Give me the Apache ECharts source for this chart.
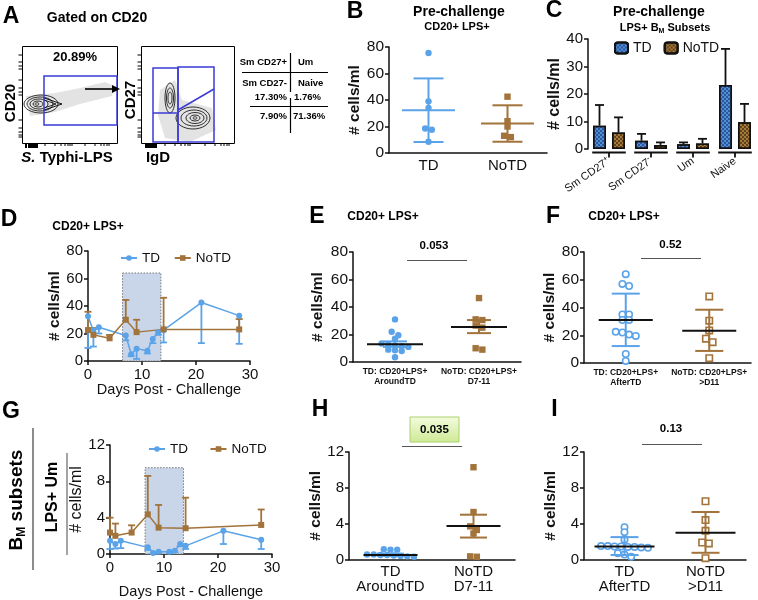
<!DOCTYPE html>
<html><head><meta charset="utf-8">
<script src="https://cdn.jsdelivr.net/npm/echarts@6/dist/echarts.min.js"></script>
<style>html,body{margin:0;padding:0;background:#fff}#c{width:758px;height:600px}</style>
</head><body><div id="c"></div>
<script>
// ---------------- data ----------------
const bCats = ['TD', 'NoTD'];
const bTD = [75.5, 39, 34, 18.5, 17.5, 8.5];
const bNoTD = [42.5, 24, 20, 13, 12];
const bMean = [32.3, 22.3], bLow = [8.3, 8.5], bHigh = [56.3, 36];

const cCats = ['Sm CD27+', 'Sm CD27-', 'Um', 'Naive'];
const cTD = [8.5, 3.0, 1.7, 23.3], cTDerr = [16, 5.5, 2.4, 36.4];
const cNoTD = [6.0, 1.5, 2.0, 9.7], cNoTDerr = [11.5, 2.4, 3.7, 16.4];

const tdDays = [0, 1, 2, 7, 8, 9, 11, 12, 13, 14, 21, 28];
const notdDays = [0, 1, 4, 7, 9, 14, 28];
const dTD = [32.5, 22, 24.5, 18.5, 5, 9, 7.5, 16, 21, 22.5, 42.5, 33];
const dTDlow = [9.5, 10.5, 20, 15, 3.5, 1.5, 5.5, 13, 19, 13.5, 13, 12.5];
const dNoTD = [22.5, 19, 16.5, 30, 21, 23, 23];
const dNoTDhigh = [35.8, 24, 19, 44.4, 30, 46, 30.5];
const dShade = [6.4, 13.5, 64];

const gTD = [1.45, 1.1, 1.45, 0.73, 0.1, 0.25, 0.25, 0.36, 1.1, 0.9, 2.55, 1.56];
const gTDlow = [0.55, 0.6, 0.65, 0.45, 0.05, 0.1, 0.1, 0.2, 0.85, 0.55, 1.1, 0.55];
const gNoTD = [2.36, 2.0, 2.36, 4.36, 2.9, 2.84, 3.2];
const gNoTDhigh = [4.0, 3.35, 3.16, 8.6, 5.4, 6.2, 4.9];
const gShade = [6.5, 13.6, 9.5];

const eCats = ['TD: CD20+LPS+\nAroundTD', 'NoTD: CD20+LPS+\nD7-11'];
const eTD = [31, 22, 19.5, 17, 13.5, 13, 12, 11, 9, 8.5, 8, 3.5, 11.5];
const eNoTD = [46.5, 31, 30.5, 26.5, 25, 10, 9];
const eMean = [13, 25.5], eLow = [11, 21], eHigh = [15, 30.5];

const fCats = ['TD: CD20+LPS+\nAfterTD', 'NoTD: CD20+LPS+\n>D11'];
const fTD = [64, 57, 55.5, 35, 35, 31, 31, 22.5, 22, 20.5, 19.5, 6.5, 1.5];
const fNoTD = [48, 30.5, 23.5, 17.5, 15, 3.5];
const fMean = [31, 23.3], fLow = [12.2, 8.7], fHigh = [50, 38.4];

const hCats = ['TD\nAroundTD', 'NoTD\nD7-11'];
const hTD = [1.1, 1.1, 1.15, 0.55, 0.5, 0.4, 0.3, 0.35, 0.45, 0.5, 0.55];
const hNoTD = [10.3, 5.3, 3.7, 3.3, 2.9, 0.3, 0.35];
const hMean = [0.5, 3.75], hLow = [0.4, 2.45], hHigh = [0.65, 5.0];

const iCats = ['TD\nAfterTD', 'NoTD\n>D11'];
const iTD = [3.6, 3.05, 2.2, 1.5, 1.45, 1.4, 1.4, 1.35, 1.3, 1.45, 1.5, 0.7, 0.3, 0.55];
const iNoTD = [6.5, 4.4, 3.2, 1.9, 1.8, 0.15];
const iMean = [1.45, 3.0], iLow = [0.5, 0.75], iHigh = [2.5, 5.3];

const pE = '0.053', pF = '0.52', pH = '0.035', pI = '0.13';

// ---------------- styles ----------------
const BLUE = '#5ba3e8', BROWN = '#a2733a', INK = '#111';
const FONT = 'Liberation Sans';

// row-based beeswarm: points within binH px vertically share a row, spread symmetrically
function swarm(pts, d, binH) {
  const order = pts.map((p, i) => i).sort((a, b) => pts[a][1] - pts[b][1]);
  const out = new Array(pts.length);
  let k = 0;
  while (k < order.length) {
    const y0 = pts[order[k]][1];
    const grp = [];
    while (k < order.length && pts[order[k]][1] - y0 <= binH) { grp.push(order[k]); k++; }
    grp.forEach((idx, j) => {
      out[idx] = [pts[idx][0] + (j - (grp.length - 1) / 2) * d, pts[idx][1]];
    });
  }
  return out;
}

function dots(g, cat, vals, color, shape, filled) {
  return {
    type: 'custom', xAxisIndex: g, yAxisIndex: g, z: 3, silent: true,
    data: vals.map(v => [cat, v]),
    renderItem(params, api) {
      const ctx = params.context;
      if (!ctx.pos) ctx.pos = swarm(vals.map(v => api.coord([cat, v])), 6.7, 4.5);
      const p = ctx.pos[params.dataIndex];
      const r = 3.2;
      const style = { fill: filled ? color : '#fff', stroke: color, lineWidth: filled ? 0 : 1.6 };
      if (shape === 'circle') return { type: 'circle', shape: { cx: p[0], cy: p[1], r: r }, style };
      return { type: 'rect', shape: { x: p[0] - r, y: p[1] - r, width: 2 * r, height: 2 * r }, style };
    }
  };
}

function meanErr(g, means, lows, highs, colors, meanColor, mw, cw) {
  return {
    type: 'custom', xAxisIndex: g, yAxisIndex: g, z: 4, silent: true,
    data: means.map((m, i) => [i, m, lows[i], highs[i]]),
    renderItem(params, api) {
      const i = params.dataIndex;
      const pm = api.coord([i, means[i]]), pl = api.coord([i, lows[i]]), ph = api.coord([i, highs[i]]);
      const col = colors[i], mc = meanColor || col;
      const ls = { stroke: col, lineWidth: 2 };
      const x = pm[0];
      return { type: 'group', children: [
        { type: 'line', shape: { x1: x, y1: pl[1], x2: x, y2: ph[1] }, style: ls },
        { type: 'line', shape: { x1: x - cw, y1: pl[1], x2: x + cw, y2: pl[1] }, style: ls },
        { type: 'line', shape: { x1: x - cw, y1: ph[1], x2: x + cw, y2: ph[1] }, style: ls },
        { type: 'line', shape: { x1: x - mw, y1: pm[1], x2: x + mw, y2: pm[1] }, style: { stroke: mc, lineWidth: 2 } }
      ] };
    }
  };
}

function lineErr(g, days, vals, ends, color) {
  return {
    type: 'custom', xAxisIndex: g, yAxisIndex: g, z: 2, silent: true,
    data: days.map((d, i) => [d, vals[i], ends[i]]),
    renderItem(params, api) {
      const a = api.coord([api.value(0), api.value(1)]), b = api.coord([api.value(0), api.value(2)]);
      const ls = { stroke: color, lineWidth: 1.8 };
      return { type: 'group', children: [
        { type: 'line', shape: { x1: a[0], y1: a[1], x2: b[0], y2: b[1] }, style: ls },
        { type: 'line', shape: { x1: b[0] - 3.5, y1: b[1], x2: b[0] + 3.5, y2: b[1] }, style: ls }
      ] };
    }
  };
}

function shade(g, s) {
  return {
    type: 'custom', xAxisIndex: g, yAxisIndex: g, z: 1, silent: true,
    data: [[s[0], 0, s[1], s[2]]],
    renderItem(params, api) {
      const a = api.coord([api.value(0), api.value(1)]), b = api.coord([api.value(2), api.value(3)]);
      return { type: 'rect', shape: { x: a[0], y: b[1], width: b[0] - a[0], height: a[1] - b[1] },
        style: { fill: '#c9d6ea', stroke: '#777', lineWidth: 1, lineDash: [1.5, 1.5] } };
    }
  };
}

function barErr(g, vals, errs, shift) {
  return {
    type: 'custom', xAxisIndex: g, yAxisIndex: g, z: 4, silent: true,
    data: vals.map((v, i) => [i, v, errs[i]]),
    renderItem(params, api) {
      const i = params.dataIndex;
      const a = api.coord([i, vals[i]]), b = api.coord([i, errs[i]]);
      const x = a[0] + shift;
      const ls = { stroke: INK, lineWidth: 1.8 };
      return { type: 'group', children: [
        { type: 'line', shape: { x1: x, y1: a[1], x2: x, y2: b[1] }, style: ls },
        { type: 'line', shape: { x1: x - 4.5, y1: b[1], x2: x + 4.5, y2: b[1] }, style: ls }
      ] };
    }
  };
}

function catSegments(g, n) {
  return {
    type: 'custom', xAxisIndex: g, yAxisIndex: g, z: 4, silent: true,
    data: Array.from({ length: n }, (_, i) => [i, 0]),
    renderItem(params, api) {
      const p = api.coord([params.dataIndex, 0]);
      const bw = api.size([1, 0])[0];
      const y = p[1] + 3.5;
      const ls = { stroke: INK, lineWidth: 1.8 };
      return { type: 'group', children: [
        { type: 'line', shape: { x1: p[0] - bw * 0.4, y1: y, x2: p[0] + bw * 0.4, y2: y }, style: ls },
        { type: 'line', shape: { x1: p[0], y1: y, x2: p[0], y2: y + 5 }, style: ls }
      ] };
    }
  };
}

const axLine = { lineStyle: { color: INK, width: 1.5 } };
const axTick = { length: 4, lineStyle: { color: INK, width: 1.5 } };

function yAx(g, max, interval, name, gap, bold, nsize, lsize) {
  return {
    gridIndex: g, type: 'value', min: 0, max, interval,
    axisLine: Object.assign({ show: true }, axLine), axisTick: Object.assign({ show: true }, axTick),
    splitLine: { show: false },
    axisLabel: { color: INK, fontSize: lsize || 15, margin: 5 },
    name, nameLocation: 'middle', nameGap: gap, nameRotate: 90,
    nameTextStyle: { fontSize: nsize || 15, fontWeight: bold ? 'bold' : 'normal', color: INK }
  };
}
function catAx(g, data, fs, lh, bold, margin) {
  return {
    gridIndex: g, type: 'category', data,
    axisLine: axLine, axisTick: Object.assign({ alignWithLabel: true }, axTick),
    axisLabel: { color: INK, fontSize: fs, lineHeight: lh, fontWeight: bold ? 'bold' : 'normal', margin: margin, interval: 0 }
  };
}
function dayAx(g, gap) {
  return {
    gridIndex: g, type: 'value', min: 0, max: 30, interval: 10,
    axisLine: axLine, axisTick: axTick, splitLine: { show: false },
    axisLabel: { color: INK, fontSize: 15, margin: 6 },
    name: 'Days Post - Challenge', nameLocation: 'middle', nameGap: gap,
    nameTextStyle: { fontSize: 14.5, color: INK }
  };
}

// ---------------- graphic helpers ----------------
function T(x, y, text, size, weight, extra, styleExtra) {
  return Object.assign({ type: 'text', x, y, silent: true,
    style: Object.assign({ text, fontSize: size, fontWeight: weight || 'normal', fill: '#000', align: 'center', verticalAlign: 'middle', fontFamily: FONT }, styleExtra || {}) }, extra || {});
}
function L(x1, y1, x2, y2, color, w, dash) {
  return { type: 'line', silent: true, shape: { x1, y1, x2, y2 }, style: { stroke: color || '#000', lineWidth: w || 1, lineDash: dash || null } };
}
function R(x, y, w, h, stroke, lw, fill) {
  return { type: 'rect', silent: true, shape: { x, y, width: w, height: h }, style: { stroke, lineWidth: lw || 1, fill: fill || 'none' } };
}
function E(cx, cy, rx, ry, stroke, fill, lw) {
  return { type: 'ellipse', silent: true, shape: { cx, cy, rx, ry }, style: { stroke: stroke || '#000', fill: fill || 'none', lineWidth: lw || 0.8 } };
}
function P(points, fill) {
  return { type: 'polygon', silent: true, shape: { points }, style: { fill, stroke: 'none' } };
}

const GATE = '#3b3bd6';
const gfx = [];
// Panel A
gfx.push(T(11, 17, 'A', 23, 'bold'));
gfx.push(T(97, 18, 'Gated on CD20', 14, 'bold'));
gfx.push(R(22.5, 46.5, 95, 97, '#000', 1));
gfx.push(R(141.5, 46.5, 93, 97, '#000', 1));
[26, 29, 31, 33, 35, 37, 45, 55, 61, 65, 68, 70, 72, 85, 95, 101, 104, 107, 109].forEach(x => gfx.push(L(x, 143, x, x < 40 ? 148 : 146, '#000', x < 40 ? 2 : 1)));
[146, 148, 150, 152, 154, 156, 165, 175, 181, 185, 188, 190, 205, 215, 221, 224, 227, 229].forEach(x => gfx.push(L(x, 143, x, x < 158 ? 148 : 146, '#000', x < 158 ? 2 : 1)));
[55, 62, 66, 69, 80, 88, 92, 95, 120, 128, 132, 135, 137].forEach(y => gfx.push(L(18.5, y, 22.5, y, '#000', 1)));
[55, 62, 66, 69, 80, 88, 92, 95, 120, 128, 132, 135, 137].forEach(y => gfx.push(L(137.5, y, 141.5, y, '#000', 1)));
gfx.push(P([[26, 96], [55, 93], [80, 88], [105, 82], [114, 86], [112, 96], [80, 104], [55, 112], [30, 116]], 'rgba(0,0,0,0.11)'));
gfx.push(E(41, 104, 17, 9)); gfx.push(E(40, 104, 13, 7)); gfx.push(E(39, 104, 9, 5)); gfx.push(E(38, 104, 5, 3)); gfx.push(E(37, 104, 2, 1.2));
gfx.push({ type: 'polyline', silent: true, shape: { points: [[44, 98], [62, 104], [44, 110]] }, style: { stroke: '#000', lineWidth: 0.9, fill: 'none' } });
gfx.push({ type: 'polyline', silent: true, shape: { points: [[44, 100], [56, 104], [44, 108]] }, style: { stroke: '#000', lineWidth: 0.8, fill: 'none' } });
gfx.push(R(44, 76, 73, 49, GATE, 1.5));
gfx.push(T(75, 57, '20.89%', 13, 'bold'));
gfx.push(L(85, 89, 115, 89, '#000', 1.6));
gfx.push(P([[120, 89], [112, 85], [112, 93]], '#000'));
gfx.push(P([[160, 90], [175, 80], [182, 100], [212, 108], [216, 130], [190, 142], [165, 138], [158, 115]], 'rgba(0,0,0,0.11)'));
gfx.push(E(170, 98, 5, 15)); gfx.push(E(170, 98, 3.5, 10)); gfx.push(E(170, 98, 2, 6));
gfx.push(E(193, 118, 17, 11)); gfx.push(E(194, 118, 13, 8)); gfx.push(E(195, 118, 9, 5.5)); gfx.push(E(195, 118, 5, 3)); gfx.push(E(195, 118, 2, 1.2));
gfx.push(R(153, 68, 25, 74, GATE, 1.5));
gfx.push(L(153, 113, 178, 113, GATE, 1.5));
gfx.push(R(178, 67, 36, 75, GATE, 1.5));
gfx.push(L(178, 110, 214, 89, GATE, 1.5));
gfx.push(T(11, 103, 'CD20', 15, 'bold', { rotation: Math.PI / 2 }));
gfx.push(T(131, 100, 'CD27', 15, 'bold', { rotation: Math.PI / 2 }));
gfx.push(T(67, 158, '{i|S.} Typhi-LPS', 15, 'bold', null, { rich: { i: { fontStyle: 'italic', fontWeight: 'bold', fontSize: 15, fontFamily: FONT } } }));
gfx.push(T(158, 158, 'IgD', 15, 'bold'));
// table
gfx.push(T(287, 62, 'Sm CD27+', 9.5, 'bold', null, { align: 'right' }));
gfx.push(T(298, 62, 'Um', 9.5, 'bold', null, { align: 'left' }));
gfx.push(T(287, 83, 'Sm CD27-', 9.5, 'bold', null, { align: 'right' }));
gfx.push(T(298, 83, 'Naive', 9.5, 'bold', null, { align: 'left' }));
gfx.push(L(242, 72.5, 328, 72.5, '#000', 1.2));
gfx.push(L(290.5, 53, 290.5, 92, '#000', 1.2));
gfx.push(T(287, 97, '17.30%', 9.5, 'bold', null, { align: 'right' }));
gfx.push(T(294, 97, '1.76%', 9.5, 'bold', null, { align: 'left' }));
gfx.push(T(287, 116, '7.90%', 9.5, 'bold', null, { align: 'right' }));
gfx.push(T(293, 116, '71.36%', 9.5, 'bold', null, { align: 'left' }));
gfx.push(L(250, 106.5, 328, 106.5, '#000', 1.2));
gfx.push(L(290.5, 98, 290.5, 133, '#000', 1.2));
// Panel B
gfx.push(T(355, 12, 'B', 23, 'bold'));
gfx.push(T(459, 12, 'Pre-challenge', 14, 'bold'));
gfx.push(T(457, 27, 'CD20+ LPS+', 11, 'bold'));
// Panel C
gfx.push(T(554, 11, 'C', 23, 'bold'));
gfx.push(T(659, 12, 'Pre-challenge', 14, 'bold'));
gfx.push(T(665, 28, 'LPS+ B{s|M} Subsets', 11, 'bold', null, { rich: { s: { fontSize: 7, fontWeight: 'bold', padding: [6, 0, 0, 0], fontFamily: FONT } } }));
// Panel D/E/F
gfx.push(T(9, 220, 'D', 23, 'bold'));
gfx.push(T(88, 227, 'CD20+ LPS+', 12, 'bold'));
gfx.push(T(317, 217, 'E', 23, 'bold'));
gfx.push(T(383, 217, 'CD20+ LPS+', 12, 'bold'));
gfx.push(T(553, 217, 'F', 23, 'bold'));
gfx.push(T(624, 217, 'CD20+ LPS+', 12, 'bold'));
gfx.push(T(434, 246, pE, 11.5, 'bold'));
gfx.push(L(407, 260.5, 467, 260.5, '#555', 1.2));
gfx.push(T(670.5, 245, pF, 11.5, 'bold'));
gfx.push(L(641, 258.5, 701, 258.5, '#555', 1.2));
// Panel G/H/I
gfx.push(T(11, 412, 'G', 23, 'bold'));
gfx.push(T(17, 500, 'B{s|M} subsets', 19, 'bold', { rotation: Math.PI / 2 }, { rich: { s: { fontSize: 12, fontWeight: 'bold', padding: [9, 0, 0, 0], fontFamily: FONT } } }));
gfx.push(L(33, 428, 33, 570, '#666', 1.5));
gfx.push(T(53, 497, 'LPS+ Um', 16, 'bold', { rotation: Math.PI / 2 }));
gfx.push(L(67, 453, 67, 555, '#666', 1.2));
gfx.push(T(320, 410, 'H', 23, 'bold'));
gfx.push({ type: 'rect', silent: true, shape: { x: 410, y: 417, width: 49, height: 25 },
  style: { fill: new echarts.graphic.LinearGradient(0, 0, 0, 1, [{ offset: 0, color: '#f4fbdf' }, { offset: 1, color: '#cdea95' }]), stroke: '#a9d26e', lineWidth: 1 } });
gfx.push(T(434.5, 430, pH, 11.5, 'bold'));
gfx.push(L(402, 446.5, 462, 446.5, '#555', 1.2));
gfx.push(T(554.5, 410, 'I', 23, 'bold'));
gfx.push(T(671, 428.5, pI, 11.5, 'bold'));
gfx.push(L(642, 444.5, 702, 444.5, '#555', 1.2));

// ---------------- option ----------------
const decalTD = { symbol: 'rect', symbolSize: 1, dashArrayX: [[2, 2], [0, 2, 2, 0]], dashArrayY: [2, 0], color: 'rgba(20,40,100,0.55)' };
const decalNo = { symbol: 'rect', symbolSize: 1, dashArrayX: [[2, 2], [0, 2, 2, 0]], dashArrayY: [2, 0], color: 'rgba(40,20,0,0.55)' };

const option = {
  animation: false,
  textStyle: { fontFamily: FONT },
  graphic: { elements: gfx },
  legend: [
    { data: ['TD', 'NoTD'], left: 609, top: 36, itemWidth: 13, itemHeight: 11, itemGap: 12, selectedMode: false,
      textStyle: { fontSize: 14, color: INK } },
    { data: ['TD ', 'NoTD '], left: 115, top: 246, itemWidth: 16, itemHeight: 7, itemGap: 10, selectedMode: false,
      textStyle: { fontSize: 13.5, color: INK } },
    { data: ['TD  ', 'NoTD  '], left: 143, top: 437, itemWidth: 16, itemHeight: 7, itemGap: 14, selectedMode: false,
      textStyle: { fontSize: 13.5, color: INK } }
  ],
  grid: [
    { left: 389, top: 47, width: 158, height: 106 },   // B
    { left: 588, top: 39, width: 168, height: 110 },   // C
    { left: 88, top: 251, width: 162, height: 110 },   // D
    { left: 353, top: 252, width: 168, height: 110 },  // E
    { left: 584, top: 252, width: 167, height: 111 },  // F
    { left: 110, top: 445, width: 162, height: 110 },  // G
    { left: 349, top: 452, width: 166, height: 107.5 },// H
    { left: 584, top: 452, width: 162, height: 107.5 } // I
  ],
  xAxis: [
    catAx(0, bCats, 15, 16, false, 5),
    { gridIndex: 1, type: 'category', data: cCats, axisLine: { show: false }, axisTick: { show: false },
      axisLabel: { color: INK, fontSize: 11, rotate: 35, margin: 11, interval: 0,
        formatter: v => v.replace(/([+-])$/, '{s|$1}'),
        rich: { s: { fontSize: 8, padding: [0, 0, 6, 0], color: INK } } } },
    dayAx(2, 21),
    catAx(3, eCats, 8.5, 10, true, 5),
    catAx(4, fCats, 8.5, 10, true, 5),
    dayAx(5, 30),
    catAx(6, hCats, 15, 15, false, 5),
    catAx(7, iCats, 15, 15, false, 5)
  ],
  yAxis: [
    yAx(0, 80, 20, '# cells/ml', 24, true, 15.5, 15.5),
    yAx(1, 40, 10, '# cells/ml', 23, true, 16, 15),
    yAx(2, 80, 20, '# cells/ml', 23, true, 15.5, 15),
    yAx(3, 80, 20, '# cells/ml', 27, true, 15.5, 15.5),
    yAx(4, 80, 20, '# cells/ml', 22, true, 15.5, 15.5),
    yAx(5, 12, 4, '# cells/ml', 22, false, 16, 15),
    yAx(6, 12, 4, '# cells/ml', 20, true, 15.5, 15),
    yAx(7, 12, 4, '# cells/ml', 21, true, 15.5, 15)
  ],
  series: [
    dots(0, 0, bTD, BLUE, 'circle', true),
    dots(0, 1, bNoTD, BROWN, 'rect', true),
    meanErr(0, bMean, bLow, bHigh, [BLUE, BROWN], null, 26.5, 15),
    { name: 'TD', type: 'bar', xAxisIndex: 1, yAxisIndex: 1, data: cTD, barWidth: 13, barGap: '46%',
      itemStyle: { color: '#4f8fd8', borderColor: INK, borderWidth: 1.5, decal: decalTD } },
    { name: 'NoTD', type: 'bar', xAxisIndex: 1, yAxisIndex: 1, data: cNoTD, barWidth: 13, barGap: '46%',
      itemStyle: { color: '#a67a3a', borderColor: INK, borderWidth: 1.5, decal: decalNo } },
    barErr(1, cTD, cTDerr, -9.5),
    barErr(1, cNoTD, cNoTDerr, 9.5),
    catSegments(1, cCats.length),
    shade(2, dShade),
    { name: 'TD ', type: 'line', xAxisIndex: 2, yAxisIndex: 2, z: 3, data: tdDays.map((d, i) => [d, dTD[i]]),
      symbol: 'circle', symbolSize: 6, color: BLUE, lineStyle: { width: 1.5 } },
    { name: 'NoTD ', type: 'line', xAxisIndex: 2, yAxisIndex: 2, z: 3, data: notdDays.map((d, i) => [d, dNoTD[i]]),
      symbol: 'rect', symbolSize: 6, color: BROWN, lineStyle: { width: 1.5 } },
    lineErr(2, tdDays, dTD, dTDlow, BLUE),
    lineErr(2, notdDays, dNoTD, dNoTDhigh, BROWN),
    dots(3, 0, eTD, BLUE, 'circle', true),
    dots(3, 1, eNoTD, BROWN, 'rect', true),
    meanErr(3, eMean, eLow, eHigh, [BLUE, BROWN], INK, 28, 12),
    dots(4, 0, fTD, BLUE, 'circle', false),
    dots(4, 1, fNoTD, BROWN, 'rect', false),
    meanErr(4, fMean, fLow, fHigh, [BLUE, BROWN], INK, 27, 14),
    shade(5, gShade),
    { name: 'TD  ', type: 'line', xAxisIndex: 5, yAxisIndex: 5, z: 3, data: tdDays.map((d, i) => [d, gTD[i]]),
      symbol: 'circle', symbolSize: 6, color: BLUE, lineStyle: { width: 1.5 } },
    { name: 'NoTD  ', type: 'line', xAxisIndex: 5, yAxisIndex: 5, z: 3, data: notdDays.map((d, i) => [d, gNoTD[i]]),
      symbol: 'rect', symbolSize: 6, color: BROWN, lineStyle: { width: 1.5 } },
    lineErr(5, tdDays, gTD, gTDlow, BLUE),
    lineErr(5, notdDays, gNoTD, gNoTDhigh, BROWN),
    dots(6, 0, hTD, BLUE, 'circle', true),
    dots(6, 1, hNoTD, BROWN, 'rect', true),
    meanErr(6, hMean, hLow, hHigh, [BLUE, BROWN], INK, 27, 13.5),
    dots(7, 0, iTD, BLUE, 'circle', false),
    dots(7, 1, iNoTD, BROWN, 'rect', false),
    meanErr(7, iMean, iLow, iHigh, [BLUE, BROWN], INK, 30, 14)
  ]
};

const chart = echarts.init(document.getElementById('c'), null, { renderer: 'canvas' });
chart.setOption(option);
</script>
</body></html>
